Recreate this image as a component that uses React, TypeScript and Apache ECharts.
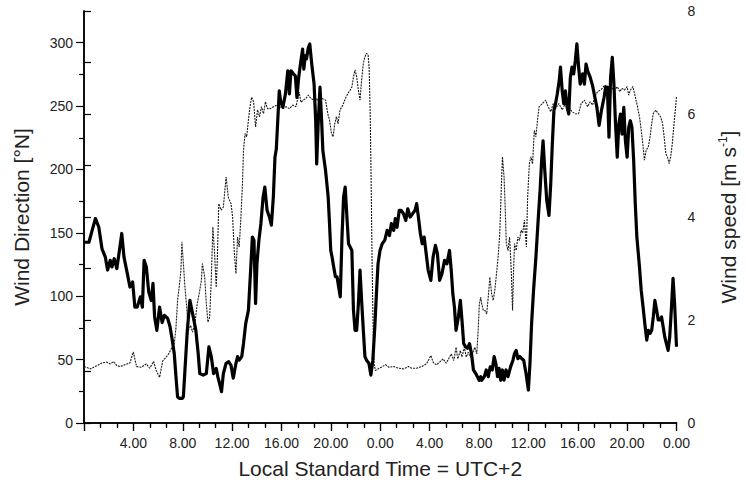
import React, { useEffect, useRef } from "react";
import * as echarts from "echarts";

// Wind speed [m s-1] vs. hours since start (0..48 h)
const speedData: [number, number][] = [
  [0, 3.51], [0.4, 3.51], [0.66, 3.74], [0.93, 3.97], [1.2, 3.8], [1.46, 3.38], [1.73, 3.22], [1.91, 2.97],
  [2.13, 3.16], [2.26, 3.03], [2.45, 3.19], [2.66, 3.0], [2.87, 3.35], [3.06, 3.68], [3.24, 3.22], [3.51, 2.9],
  [3.72, 2.64], [3.94, 2.74], [4.12, 2.25], [4.31, 2.25], [4.57, 2.45], [4.73, 2.25], [4.87, 3.16], [5.05, 3.03],
  [5.24, 2.55], [5.45, 2.38], [5.59, 2.71], [5.72, 2.06], [5.9, 1.8], [6.12, 2.25], [6.33, 1.95], [6.52, 2.09],
  [6.78, 2.03], [6.97, 1.87], [7.13, 1.64], [7.31, 1.35], [7.45, 0.9], [7.58, 0.51], [7.71, 0.48], [7.98, 0.48],
  [8.05, 0.51], [8.18, 1.03], [8.37, 1.8], [8.58, 2.38], [8.85, 2.06], [9.06, 1.8], [9.25, 1.35], [9.38, 0.96],
  [9.65, 0.93], [9.91, 0.96], [10.12, 1.48], [10.31, 1.29], [10.5, 0.96], [10.71, 1.06], [10.84, 0.9], [10.98, 0.77],
  [11.14, 0.61], [11.29, 0.96], [11.51, 1.16], [11.72, 1.19], [11.91, 1.12], [12.09, 0.87], [12.31, 1.16], [12.44, 1.29],
  [12.57, 1.22], [12.78, 1.29], [12.92, 1.54], [13.1, 1.93], [13.32, 2.19], [13.5, 2.97], [13.64, 3.61], [13.77, 3.55],
  [13.9, 2.32], [14.01, 3.09], [14.17, 3.55], [14.33, 3.87], [14.51, 4.39], [14.65, 4.58], [14.83, 4.13], [15.02, 4.0],
  [15.18, 3.84], [15.34, 4.39], [15.47, 5.16], [15.58, 5.32], [15.71, 5.94], [15.82, 6.45], [15.92, 6.26],
  [16.11, 6.13], [16.32, 6.39], [16.51, 6.84], [16.64, 6.39], [16.77, 6.84], [16.96, 6.78], [17.12, 6.74], [17.25, 6.32],
  [17.39, 6.71], [17.57, 7.03], [17.71, 7.26], [17.81, 6.87], [17.92, 7.13], [18.02, 7.07], [18.18, 7.29], [18.29, 7.36],
  [18.45, 6.97], [18.64, 6.58], [18.77, 5.87], [18.85, 5.03], [18.98, 5.87], [19.12, 6.52], [19.25, 5.87], [19.35, 5.29],
  [19.57, 4.9], [19.78, 4.39], [19.89, 3.87], [19.99, 3.35], [20.1, 3.22], [20.23, 3.03], [20.37, 2.84], [20.5, 2.84],
  [20.63, 2.64], [20.76, 2.45], [20.9, 3.61], [21.03, 4.39], [21.16, 4.58], [21.3, 4.0], [21.43, 3.48], [21.56, 3.42],
  [21.7, 3.35], [21.83, 2.19], [21.96, 1.8], [22.09, 1.8], [22.23, 2.32], [22.36, 2.97], [22.49, 2.38], [22.63, 1.8],
  [22.76, 1.29], [22.89, 1.22], [23.08, 1.16], [23.24, 0.93], [23.4, 1.22], [23.56, 1.87], [23.69, 2.51], [23.82, 3.09],
  [23.98, 3.35],
  [24.16, 3.48], [24.37, 3.55], [24.56, 3.74], [24.75, 3.64], [24.9, 3.87], [25.09, 3.74], [25.22, 3.97], [25.36, 3.8],
  [25.54, 4.13], [25.7, 4.13], [25.89, 4.06], [26.07, 3.93], [26.23, 4.16], [26.42, 4.0], [26.61, 4.06], [26.82, 4.13],
  [26.95, 4.26], [27.09, 4.0], [27.25, 3.68], [27.4, 3.48], [27.56, 3.61], [27.72, 3.29], [27.88, 2.97], [28.1, 2.77],
  [28.28, 3.22], [28.47, 3.45], [28.63, 3.29], [28.81, 2.77], [29.0, 2.9], [29.21, 3.16], [29.4, 3.09], [29.61, 3.35],
  [29.75, 2.97], [29.88, 2.51], [30.01, 2.25], [30.14, 1.8], [30.33, 2.06], [30.49, 2.38], [30.62, 2.0], [30.76, 1.54],
  [30.92, 1.48], [31.07, 1.45], [31.23, 1.54], [31.39, 1.35], [31.55, 1.03], [31.74, 0.96], [31.87, 0.9], [32.01, 0.83],
  [32.14, 0.9],
  [32.22, 0.83], [32.43, 0.9], [32.59, 1.03], [32.75, 0.9], [32.91, 1.09], [33.07, 1.03], [33.23, 1.29], [33.36, 1.16],
  [33.5, 0.9], [33.63, 1.06], [33.76, 0.83], [33.9, 1.03], [34.03, 0.83], [34.19, 1.03], [34.35, 0.9], [34.56, 1.09],
  [34.75, 1.22], [34.88, 1.35], [35.01, 1.41], [35.15, 1.25], [35.31, 1.29], [35.46, 1.25], [35.62, 1.22], [35.81, 0.96],
  [36.0, 0.64], [36.13, 1.16], [36.26, 1.93], [36.42, 2.58], [36.61, 3.22], [36.79, 3.93], [36.95, 4.52], [37.09, 5.16],
  [37.19, 5.48], [37.33, 4.9], [37.49, 4.32], [37.67, 4.03], [37.81, 4.64], [37.94, 5.42], [38.07, 6.07], [38.2, 6.2],
  [38.34, 6.39], [38.5, 6.65], [38.6, 6.91], [38.74, 6.45], [38.87, 6.2], [39.0, 6.45], [39.14, 6.13], [39.27, 6.0],
  [39.4, 6.71], [39.53, 6.91], [39.67, 6.78], [39.8, 7.03], [39.93, 7.36], [40.07, 6.91], [40.2, 6.58],
  [40.4, 6.78], [40.54, 6.58], [40.67, 6.97], [40.8, 6.84], [41.01, 6.71], [41.2, 6.55], [41.39, 6.32], [41.55, 6.13],
  [41.73, 5.78], [41.92, 6.07], [42.13, 6.32], [42.26, 6.52], [42.4, 6.52], [42.53, 5.55], [42.66, 6.71], [42.8, 7.1],
  [42.93, 6.58], [43.06, 5.81], [43.2, 5.16], [43.33, 5.81], [43.46, 6.0], [43.59, 5.61], [43.73, 6.13], [43.86, 5.48],
  [44.0, 5.16], [44.13, 5.74], [44.26, 5.87], [44.39, 5.74], [44.53, 5.1], [44.66, 4.26], [44.79, 3.61], [45.0, 3.03],
  [45.14, 2.58], [45.32, 2.19], [45.46, 1.87], [45.59, 1.61], [45.72, 1.8], [45.86, 1.74], [45.99, 1.8], [46.12, 2.06],
  [46.25, 2.38], [46.39, 2.19], [46.52, 2.0], [46.65, 2.0], [46.79, 2.06], [46.92, 1.87], [47.05, 1.67], [47.18, 1.54],
  [47.32, 1.41], [47.45, 1.67], [47.58, 2.19], [47.72, 2.81], [47.85, 2.3], [48.0, 1.48],
];

// Wind direction [°N] vs. hours since start
const directionData: [number, number][] = [
  [0, 44.5], [0.53, 42.7], [1.06, 45.3], [1.46, 47.4], [1.86, 48], [2.13, 46.6], [2.39, 48.5], [2.66, 45.3],
  [2.93, 44.5], [3.32, 46], [3.72, 47.4], [3.99, 56], [4.26, 44.5], [4.65, 44], [5.05, 46.6], [5.32, 43.2],
  [5.64, 48.5], [5.85, 41.4], [6.12, 36], [6.38, 49], [6.65, 52], [6.86, 54.5], [7.13, 59.8], [7.31, 62.4],
  [7.45, 75], [7.58, 96.7], [7.71, 107], [7.85, 120], [7.93, 143],
  [8.05, 125.7], [8.18, 107], [8.32, 91.4], [8.45, 73], [8.64, 77], [8.79, 71.7], [8.98, 78], [9.17, 94],
  [9.33, 102], [9.51, 112.5], [9.59, 125.7], [9.78, 115], [9.91, 94], [10.04, 79.6], [10.18, 83.5], [10.31, 112.5],
  [10.44, 154.6], [10.58, 133.6], [10.71, 107], [10.79, 125.7], [10.92, 173], [11.11, 167.8], [11.29, 170.4], [11.51, 194],
  [11.69, 178], [11.91, 173], [12.04, 162.5], [12.17, 136], [12.31, 117.8], [12.44, 146.7], [12.57, 138.8], [12.7, 160],
  [12.84, 189], [12.92, 215], [13.05, 228.4], [13.18, 225.8], [13.32, 239], [13.45, 249.5], [13.58, 257], [13.74, 253.4],
  [13.9, 233.6], [14.06, 247], [14.22, 241.6], [14.38, 249.5], [14.54, 244], [14.7, 253.4], [14.86, 248], [15.1, 248],
  [15.36, 249.5], [15.63, 250.8], [15.9, 249.5],
  [16.11, 248], [16.38, 249.5], [16.64, 248], [16.91, 250.8], [17.17, 249.5], [17.44, 261], [17.57, 253], [17.76, 254.7],
  [17.97, 256], [18.18, 258.7], [18.37, 256], [18.64, 254.7], [18.82, 256], [19.04, 253], [19.3, 256], [19.57, 254.7],
  [19.75, 244], [19.89, 239], [20.05, 228.4], [20.18, 225.8], [20.31, 236], [20.45, 241.6], [20.58, 236], [20.74, 247],
  [20.9, 249.5], [21.06, 253], [21.22, 257], [21.38, 260], [21.56, 262.6], [21.7, 265], [21.83, 273], [21.96, 278.5],
  [22.09, 273], [22.23, 262.6], [22.36, 254.7], [22.49, 270.5], [22.63, 283.7], [22.76, 289], [22.89, 291.6], [23.02, 290],
  [23.1, 279.8], [23.18, 247], [23.24, 207], [23.29, 167.8], [23.34, 128], [23.4, 88.8], [23.45, 62.4], [23.5, 46.6],
  [23.61, 41.4], [23.82, 42.7], [24.09, 44],
  [24.43, 46], [24.69, 44], [25.09, 44.5], [25.49, 43.2], [25.89, 42.7], [26.29, 44.5], [26.55, 43.2], [26.95, 43.2],
  [27.35, 44.5], [27.75, 46.6], [28.1, 53.2], [28.28, 48], [28.55, 45.8], [28.81, 48], [29.08, 50.6], [29.35, 47.2],
  [29.61, 51.9], [29.75, 54.5], [29.96, 49.3], [30.14, 59.8], [30.28, 50.6], [30.49, 57.2], [30.62, 52], [30.81, 59.8],
  [30.97, 52], [31.13, 55.8], [31.29, 52], [31.47, 54.5], [31.66, 59.8], [31.82, 54.5], [31.93, 73], [32.03, 94],
  [32.14, 99.3],
  [32.22, 94], [32.35, 88.8], [32.49, 88.8], [32.62, 86], [32.75, 99.3], [32.88, 115], [33.02, 102], [33.15, 96.7],
  [33.28, 104.6], [33.42, 117.8], [33.55, 131], [33.68, 149], [33.82, 189], [33.9, 210], [34.03, 194], [34.13, 167.8],
  [34.21, 141.5], [34.35, 136], [34.48, 146.7], [34.61, 120.4], [34.72, 88.8], [34.8, 120.4], [34.88, 141.5], [35.01, 136],
  [35.15, 146.7], [35.28, 144], [35.41, 152], [35.54, 149.9], [35.68, 160], [35.84, 138.8], [35.94, 178], [36.08, 204.4],
  [36.21, 210], [36.34, 204.4], [36.48, 230.8], [36.61, 225.8], [36.74, 239], [36.87, 249.5], [37.01, 250.8], [37.27, 253.4],
  [37.41, 254.7], [37.54, 250.8], [37.81, 245.5], [38.02, 252], [38.2, 248], [38.47, 252], [38.74, 247], [39.0, 252],
  [39.27, 249.5], [39.53, 245.5], [39.8, 244], [40.07, 244],
  [40.27, 252], [40.54, 254.7], [40.8, 249.5], [41.01, 253.4], [41.2, 250.8], [41.39, 257.4], [41.6, 261.3], [41.81, 262.6],
  [42.0, 264], [42.18, 266.6], [42.4, 264], [42.61, 262.6], [42.8, 264], [42.98, 262.6], [43.2, 265.3], [43.41, 261.3],
  [43.59, 264], [43.78, 262.6], [44.0, 265.3], [44.13, 258.7], [44.26, 262.6], [44.47, 265.3], [44.66, 257.4], [44.84, 249.5],
  [45.0, 241.6], [45.14, 231], [45.27, 220.5], [45.4, 207.3], [45.54, 215.2], [45.72, 217.9], [45.86, 225.8], [45.99, 236.3],
  [46.12, 244], [46.33, 246.8], [46.52, 244], [46.71, 241.6], [46.87, 236.3], [47.0, 225.8], [47.13, 212.6], [47.26, 210],
  [47.4, 204.7], [47.53, 210], [47.66, 220.5], [47.8, 236.3], [47.93, 249.5], [48.0, 258],
];

const directionTicks = [0, 50, 100, 150, 200, 250, 300];
const speedTicks = [0, 2, 4, 6, 8];
const timeTicks = [4, 8, 12, 16, 20, 24, 28, 32, 36, 40, 44, 48];

const FONT = "Liberation Sans, Arial, sans-serif";

export default function App() {
  const ref = useRef<HTMLDivElement>(null);
  useEffect(() => {
    if (!ref.current) return;
    const chart = echarts.init(ref.current, undefined, { renderer: "svg" });
    const axisLine = { show: true, lineStyle: { color: "#000", width: 1.5 } };
    const tickStyle = { color: "#000", width: 1.2 };
    chart.setOption({
      animation: false,
      backgroundColor: "#fff",
      textStyle: { fontFamily: FONT },
      grid: { left: 84, right: 61, top: 11, bottom: 62, containLabel: false },
      xAxis: [
        {
          type: "value",
          position: "bottom",
          min: 0,
          max: 48,
          interval: 4,
          axisLine,
          axisTick: { show: true, inside: false, length: 8, lineStyle: tickStyle },
          minorTick: { show: true, splitNumber: 3, length: 5, lineStyle: tickStyle },
          splitLine: { show: false },
          axisLabel: {
            show: true,
            margin: 13,
            color: "#222",
            fontSize: 14,
            fontFamily: FONT,
            customValues: timeTicks,
            formatter: (v: number) => `${Math.round(v) % 24}.00`,
          },
          name: "Local Standard Time = UTC+2",
          nameLocation: "middle",
          nameGap: 35,
          nameTextStyle: { fontSize: 21, color: "#222", fontFamily: FONT },
        },
        {
          type: "value",
          position: "top",
          min: 0,
          max: 48,
          interval: 4,
          axisLine,
          axisTick: { show: true, inside: true, length: 8, lineStyle: tickStyle },
          minorTick: { show: true, splitNumber: 3, length: 4, lineStyle: tickStyle },
          splitLine: { show: false },
          axisLabel: { show: false },
        },
      ],
      yAxis: [
        {
          type: "value",
          position: "left",
          min: 0,
          max: 325,
          interval: 50,
          axisLine,
          axisTick: { show: true, inside: false, length: 8, customValues: directionTicks, lineStyle: tickStyle },
          minorTick: { show: true, splitNumber: 2, length: 5, lineStyle: tickStyle },
          splitLine: { show: false },
          axisLabel: {
            show: true,
            margin: 11,
            color: "#222",
            fontSize: 14,
            fontFamily: FONT,
            customValues: directionTicks,
          },
          name: "Wind Direction [°N]",
          nameLocation: "middle",
          nameRotate: 90,
          nameGap: 52,
          nameTextStyle: { fontSize: 21, color: "#222", fontFamily: FONT },
        },
        {
          type: "value",
          position: "right",
          min: 0,
          max: 8,
          interval: 2,
          axisLine,
          axisTick: { show: true, inside: false, length: 7, lineStyle: tickStyle },
          minorTick: { show: true, splitNumber: 2, length: 7, lineStyle: tickStyle },
          splitLine: { show: false },
          axisLabel: {
            show: true,
            margin: 11,
            color: "#222",
            fontSize: 14,
            fontFamily: FONT,
            customValues: speedTicks,
          },
          name: "{a|Wind speed [m s}{b|-1}{a|]}",
          nameLocation: "middle",
          nameRotate: 90,
          nameGap: 40,
          nameTextStyle: {
            fontSize: 21,
            color: "#222",
            fontFamily: FONT,
            rich: {
              a: { fontSize: 21, color: "#222", fontFamily: FONT, lineHeight: 24 },
              b: { fontSize: 12, color: "#222", fontFamily: FONT, verticalAlign: "top", lineHeight: 24 },
            },
          },
        },
      ],
      series: [
        {
          name: "Wind Direction",
          type: "line",
          xAxisIndex: 0,
          yAxisIndex: 0,
          data: directionData,
          showSymbol: false,
          symbol: "none",
          lineStyle: { color: "#1a1a1a", width: 1.1, type: [2, 1] },
          z: 2,
        },
        {
          name: "Wind speed",
          type: "line",
          xAxisIndex: 0,
          yAxisIndex: 1,
          data: speedData,
          showSymbol: false,
          symbol: "none",
          lineStyle: { color: "#000", width: 3.2, join: "round" },
          z: 3,
        },
      ],
    });
    return () => chart.dispose();
  }, []);
  return (
    <div
      ref={ref}
      style={{ position: "fixed", left: 0, top: 0, width: 747, height: 485, background: "#fff" }}
    />
  );
}
